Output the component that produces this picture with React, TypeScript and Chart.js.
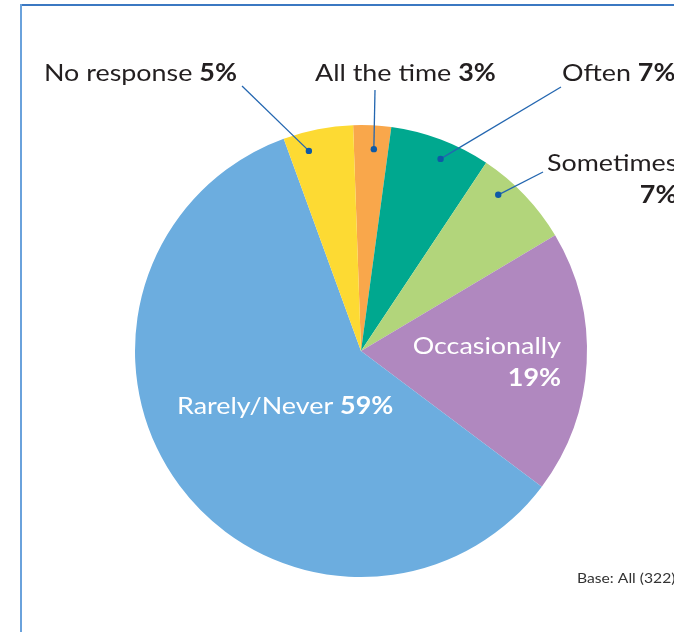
import React, { useEffect, useRef } from "react";
import { Chart, registerables } from "chart.js";

Chart.register(...registerables);

// Data (clockwise from the top)
const categories = ["All the time", "Often", "Sometimes", "Occasionally", "Rarely/Never", "No response"];
const sliceValues = [2.7, 7.2, 7.1, 18.8, 59.2, 5.0];
const percentLabels = ["3%", "7%", "7%", "19%", "59%", "5%"];
const sliceColors = ["#F9A74B", "#00A88F", "#B2D57B", "#B088BF", "#6CADDF", "#FDDA33"];
const baseNote = "Base: All (322)";

const FONT = "Lato, 'Noto Sans', sans-serif";
const TEXT = "#231F20";
const LEADER = "#2366B0";
const SX = 1.12; // horizontal stretch to mimic the wider original typeface

type Ann = {
  idx: number;
  lines: { pct: boolean }[][];
  x: number;
  y: number;
  lineH: number;
  align: "left" | "right" | "block";
  color: string;
  leader?: { x: number; y: number; frac: number; rFrac: number };
};

// Annotation layout (positions only, text comes from the arrays above)
const annotations: Ann[] = [
  { idx: 5, lines: [[{ pct: false }, { pct: true }]], x: 44, y: 81, lineH: 0, align: "left", color: TEXT,
    leader: { x: 242, y: 86, frac: 0.3, rFrac: 0.915 } },
  { idx: 0, lines: [[{ pct: false }, { pct: true }]], x: 315, y: 81, lineH: 0, align: "left", color: TEXT,
    leader: { x: 375, y: 90, frac: 0.58, rFrac: 0.895 } },
  { idx: 1, lines: [[{ pct: false }, { pct: true }]], x: 562, y: 81, lineH: 0, align: "left", color: TEXT,
    leader: { x: 561, y: 87, frac: 0.57, rFrac: 0.92 } },
  { idx: 2, lines: [[{ pct: false }], [{ pct: true }]], x: 547, y: 171, lineH: 32, align: "block", color: TEXT,
    leader: { x: 543, y: 172, frac: 0.3, rFrac: 0.92 } },
  { idx: 3, lines: [[{ pct: false }], [{ pct: true }]], x: 561, y: 354, lineH: 32, align: "right", color: "#FFFFFF" },
  { idx: 4, lines: [[{ pct: false }, { pct: true }]], x: 177, y: 414, lineH: 0, align: "left", color: "#FFFFFF" },
];

function drawText(ctx: CanvasRenderingContext2D, t: string, x: number, y: number) {
  ctx.save();
  ctx.translate(x, y);
  ctx.scale(SX, 1);
  ctx.fillText(t, 0, 0);
  ctx.restore();
}

const overlayPlugin = {
  id: "overlay",
  afterDraw(chart: any) {
    const ctx: CanvasRenderingContext2D = chart.ctx;
    const meta = chart.getDatasetMeta(0);
    ctx.save();
    // frame
    ctx.strokeStyle = "#3B78C2";
    ctx.lineWidth = 2;
    ctx.beginPath();
    ctx.moveTo(20, 5);
    ctx.lineTo(680, 5);
    ctx.stroke();
    ctx.strokeStyle = "#6AA2DC";
    ctx.beginPath();
    ctx.moveTo(21, 4);
    ctx.lineTo(21, 640);
    ctx.stroke();

    ctx.textBaseline = "alphabetic";
    ctx.textAlign = "left";
    const fontReg = `400 24px ${FONT}`;
    const fontBold = `700 24px ${FONT}`;
    for (const a of annotations) {
      const lineData = a.lines.map((line) => {
        const parts = line.map((p, k) => {
          let t = p.pct ? percentLabels[a.idx] : categories[a.idx];
          if (!p.pct && k < line.length - 1) t += " ";
          return { t, f: p.pct ? fontBold : fontReg };
        });
        let total = 0;
        const widths = parts.map((p) => {
          ctx.font = p.f;
          const w = ctx.measureText(p.t).width * SX;
          total += w;
          return w;
        });
        return { parts, widths, total };
      });
      const blockRight = a.x + lineData[0].total;
      lineData.forEach((ld, li) => {
        let x = a.align === "left" ? a.x : a.align === "right" ? a.x - ld.total : blockRight - ld.total;
        const y = a.y + li * a.lineH;
        ctx.fillStyle = a.color;
        ld.parts.forEach((p, k) => {
          ctx.font = p.f;
          drawText(ctx, p.t, x, y);
          x += ld.widths[k];
        });
      });
      if (a.leader) {
        const arc = meta.data[a.idx];
        const ang = arc.startAngle + (arc.endAngle - arc.startAngle) * a.leader.frac;
        const r = arc.outerRadius * a.leader.rFrac;
        const dx = arc.x + Math.cos(ang) * r;
        const dy = arc.y + Math.sin(ang) * r;
        ctx.strokeStyle = LEADER;
        ctx.lineWidth = 1.3;
        ctx.beginPath();
        ctx.moveTo(a.leader.x, a.leader.y);
        ctx.lineTo(dx, dy);
        ctx.stroke();
        ctx.fillStyle = "#0E5AA7";
        ctx.beginPath();
        ctx.arc(dx, dy, 3.2, 0, Math.PI * 2);
        ctx.fill();
      }
    }
    ctx.font = `400 14px ${FONT}`;
    ctx.fillStyle = "#333333";
    drawText(ctx, baseNote, 577, 583);
    ctx.restore();
  },
};

export default function App() {
  const ref = useRef<HTMLCanvasElement>(null);
  useEffect(() => {
    if (!ref.current) return;
    const chart = new Chart(ref.current, {
      type: "pie",
      data: {
        labels: categories,
        datasets: [
          {
            data: sliceValues,
            backgroundColor: sliceColors,
            borderWidth: 0,
          },
        ],
      },
      options: {
        responsive: false,
        animation: false,
        rotation: -2,
        layout: { padding: { left: 135, right: 87, top: 125, bottom: 55 } },
        plugins: { legend: { display: false }, tooltip: { enabled: false } },
      },
      plugins: [overlayPlugin],
    });
    return () => chart.destroy();
  }, []);
  return (
    <div style={{ position: "absolute", left: 0, top: 0, width: 674, height: 632, background: "#fff", overflow: "hidden" }}>
      <canvas ref={ref} width={674} height={632} style={{ display: "block" }} />
    </div>
  );
}
